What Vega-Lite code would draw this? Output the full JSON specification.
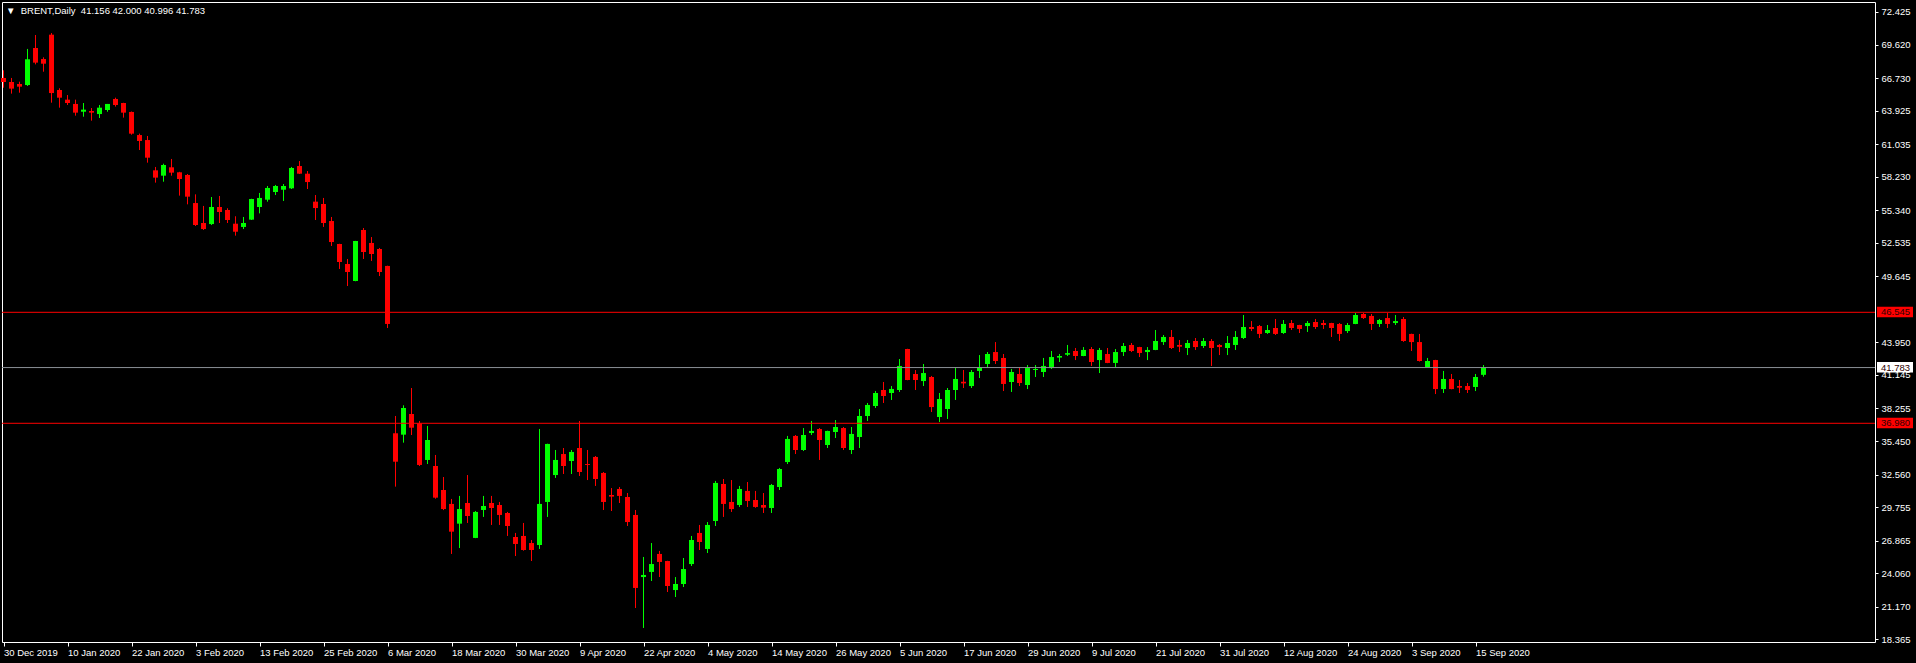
{
  "$schema": "https://vega.github.io/schema/vega-lite/v6.json",
  "autosize": {"type": "none"},
  "width": 1873,
  "height": 640,
  "padding": {"left": 2, "top": 2, "right": 41, "bottom": 21},
  "background": "#000000",
  "config": {
    "view": {"stroke": "#ffffff", "strokeWidth": 1},
    "axis": {"grid": false, "domain": false, "tickColor": "#ffffff", "labelColor": "#ffffff", "labelFont": "Liberation Sans", "labelFontSize": 9.5, "labelOverlap": false, "labelFlush": false, "labelBound": false}
  },
  "data": {"values": [
    {"d":"30 Dec 2019","o":66.74,"h":67.40,"l":65.90,"c":66.39},
    {"d":"31 Dec 2019","o":66.39,"h":66.74,"l":65.39,"c":65.82},
    {"d":"2 Jan 2020","o":66.22,"h":66.42,"l":65.47,"c":65.99},
    {"d":"3 Jan 2020","o":66.13,"h":69.24,"l":66.05,"c":68.35},
    {"d":"6 Jan 2020","o":69.32,"h":70.44,"l":67.91,"c":68.06},
    {"d":"7 Jan 2020","o":68.37,"h":68.52,"l":67.28,"c":67.97},
    {"d":"8 Jan 2020","o":70.47,"h":70.61,"l":64.61,"c":65.44},
    {"d":"9 Jan 2020","o":65.70,"h":65.85,"l":64.18,"c":65.04},
    {"d":"10 Jan 2020","o":64.87,"h":65.27,"l":64.41,"c":64.58},
    {"d":"13 Jan 2020","o":64.50,"h":64.87,"l":63.49,"c":63.75},
    {"d":"14 Jan 2020","o":63.83,"h":64.58,"l":63.40,"c":64.01},
    {"d":"15 Jan 2020","o":63.89,"h":64.15,"l":63.06,"c":63.75},
    {"d":"16 Jan 2020","o":63.63,"h":64.41,"l":63.29,"c":64.18},
    {"d":"17 Jan 2020","o":63.98,"h":64.50,"l":63.83,"c":64.50},
    {"d":"20 Jan 2020","o":64.93,"h":65.04,"l":64.27,"c":64.41},
    {"d":"21 Jan 2020","o":64.58,"h":64.60,"l":63.32,"c":63.75},
    {"d":"22 Jan 2020","o":63.81,"h":63.85,"l":61.85,"c":61.94},
    {"d":"23 Jan 2020","o":61.82,"h":61.94,"l":60.53,"c":61.31},
    {"d":"24 Jan 2020","o":61.39,"h":61.74,"l":59.44,"c":59.87},
    {"d":"27 Jan 2020","o":58.78,"h":59.07,"l":57.72,"c":58.15},
    {"d":"28 Jan 2020","o":58.32,"h":59.35,"l":57.80,"c":59.24},
    {"d":"29 Jan 2020","o":59.04,"h":59.76,"l":58.32,"c":58.58},
    {"d":"30 Jan 2020","o":58.61,"h":58.65,"l":56.60,"c":58.03},
    {"d":"31 Jan 2020","o":58.38,"h":58.46,"l":55.85,"c":56.51},
    {"d":"3 Feb 2020","o":55.96,"h":56.71,"l":53.98,"c":54.07},
    {"d":"4 Feb 2020","o":54.24,"h":55.71,"l":53.64,"c":53.72},
    {"d":"5 Feb 2020","o":54.15,"h":56.48,"l":54.07,"c":55.62},
    {"d":"6 Feb 2020","o":55.62,"h":56.57,"l":54.24,"c":55.19},
    {"d":"7 Feb 2020","o":55.36,"h":55.51,"l":54.24,"c":54.50},
    {"d":"10 Feb 2020","o":54.18,"h":54.82,"l":53.15,"c":53.49},
    {"d":"11 Feb 2020","o":53.90,"h":54.76,"l":53.72,"c":54.24},
    {"d":"12 Feb 2020","o":54.53,"h":56.33,"l":54.50,"c":56.31},
    {"d":"13 Feb 2020","o":55.62,"h":56.83,"l":55.07,"c":56.40},
    {"d":"14 Feb 2020","o":56.25,"h":57.43,"l":56.08,"c":57.26},
    {"d":"17 Feb 2020","o":56.91,"h":57.52,"l":56.65,"c":57.43},
    {"d":"18 Feb 2020","o":57.11,"h":57.60,"l":56.14,"c":57.43},
    {"d":"19 Feb 2020","o":57.23,"h":59.07,"l":57.17,"c":58.98},
    {"d":"20 Feb 2020","o":59.15,"h":59.58,"l":58.46,"c":58.49},
    {"d":"21 Feb 2020","o":58.49,"h":58.72,"l":57.17,"c":57.77},
    {"d":"24 Feb 2020","o":56.08,"h":56.65,"l":54.50,"c":55.53},
    {"d":"25 Feb 2020","o":55.88,"h":56.40,"l":53.90,"c":54.24},
    {"d":"26 Feb 2020","o":54.41,"h":54.76,"l":52.26,"c":52.60},
    {"d":"27 Feb 2020","o":52.43,"h":52.45,"l":50.28,"c":50.88},
    {"d":"28 Feb 2020","o":50.71,"h":51.14,"l":48.81,"c":50.02},
    {"d":"2 Mar 2020","o":49.24,"h":52.70,"l":49.22,"c":52.69},
    {"d":"3 Mar 2020","o":53.64,"h":53.81,"l":51.14,"c":51.74},
    {"d":"4 Mar 2020","o":52.52,"h":53.03,"l":50.97,"c":51.57},
    {"d":"5 Mar 2020","o":52.00,"h":52.09,"l":49.67,"c":50.02},
    {"d":"6 Mar 2020","o":50.54,"h":50.56,"l":45.19,"c":45.54},
    {"d":"9 Mar 2020","o":36.12,"h":37.61,"l":31.52,"c":33.67},
    {"d":"10 Mar 2020","o":36.00,"h":38.53,"l":35.31,"c":38.30},
    {"d":"11 Mar 2020","o":37.78,"h":40.02,"l":35.97,"c":36.60},
    {"d":"12 Mar 2020","o":36.98,"h":37.18,"l":33.30,"c":33.39},
    {"d":"13 Mar 2020","o":33.82,"h":36.75,"l":33.47,"c":35.54},
    {"d":"16 Mar 2020","o":33.30,"h":34.25,"l":30.48,"c":30.57},
    {"d":"17 Mar 2020","o":31.23,"h":32.35,"l":29.50,"c":29.59},
    {"d":"18 Mar 2020","o":30.03,"h":30.46,"l":25.72,"c":27.64},
    {"d":"19 Mar 2020","o":28.33,"h":30.72,"l":26.23,"c":29.59},
    {"d":"20 Mar 2020","o":30.11,"h":32.52,"l":28.39,"c":28.99},
    {"d":"23 Mar 2020","o":27.10,"h":29.42,"l":27.08,"c":29.34},
    {"d":"24 Mar 2020","o":29.51,"h":30.72,"l":28.91,"c":29.85},
    {"d":"25 Mar 2020","o":30.11,"h":30.72,"l":28.22,"c":29.68},
    {"d":"26 Mar 2020","o":29.94,"h":30.20,"l":28.22,"c":29.08},
    {"d":"27 Mar 2020","o":29.25,"h":29.34,"l":27.27,"c":28.13},
    {"d":"30 Mar 2020","o":27.18,"h":27.53,"l":25.54,"c":26.58},
    {"d":"31 Mar 2020","o":27.27,"h":28.39,"l":26.00,"c":26.06},
    {"d":"1 Apr 2020","o":26.66,"h":26.92,"l":25.11,"c":26.06},
    {"d":"2 Apr 2020","o":26.49,"h":36.49,"l":26.15,"c":30.03},
    {"d":"3 Apr 2020","o":30.20,"h":35.22,"l":28.91,"c":35.20},
    {"d":"6 Apr 2020","o":32.52,"h":34.68,"l":32.27,"c":33.82},
    {"d":"7 Apr 2020","o":34.33,"h":34.85,"l":32.61,"c":33.30},
    {"d":"8 Apr 2020","o":33.73,"h":34.68,"l":32.61,"c":34.51},
    {"d":"9 Apr 2020","o":34.85,"h":37.18,"l":32.44,"c":32.78},
    {"d":"13 Apr 2020","o":33.47,"h":34.68,"l":32.09,"c":33.39},
    {"d":"14 Apr 2020","o":34.08,"h":34.16,"l":31.58,"c":32.18},
    {"d":"15 Apr 2020","o":32.70,"h":32.78,"l":29.51,"c":30.20},
    {"d":"16 Apr 2020","o":30.80,"h":31.40,"l":29.42,"c":30.66},
    {"d":"17 Apr 2020","o":31.32,"h":31.49,"l":30.11,"c":30.72},
    {"d":"20 Apr 2020","o":30.63,"h":30.97,"l":28.13,"c":28.47},
    {"d":"21 Apr 2020","o":29.08,"h":29.51,"l":21.06,"c":22.79},
    {"d":"22 Apr 2020","o":23.73,"h":25.46,"l":19.34,"c":23.91},
    {"d":"23 Apr 2020","o":24.17,"h":26.66,"l":23.39,"c":24.85},
    {"d":"24 Apr 2020","o":25.72,"h":25.98,"l":23.73,"c":25.03},
    {"d":"27 Apr 2020","o":25.11,"h":25.13,"l":22.44,"c":22.96},
    {"d":"28 Apr 2020","o":22.61,"h":23.73,"l":22.01,"c":23.13},
    {"d":"29 Apr 2020","o":23.13,"h":25.37,"l":22.87,"c":24.42},
    {"d":"30 Apr 2020","o":24.85,"h":27.27,"l":24.68,"c":26.92},
    {"d":"1 May 2020","o":27.53,"h":28.22,"l":26.06,"c":26.75},
    {"d":"4 May 2020","o":26.15,"h":28.47,"l":25.80,"c":28.22},
    {"d":"5 May 2020","o":28.56,"h":32.01,"l":28.13,"c":31.84},
    {"d":"6 May 2020","o":31.75,"h":32.18,"l":28.91,"c":30.03},
    {"d":"7 May 2020","o":30.20,"h":32.09,"l":29.34,"c":29.59},
    {"d":"8 May 2020","o":29.94,"h":31.58,"l":29.77,"c":31.32},
    {"d":"11 May 2020","o":31.15,"h":31.92,"l":29.77,"c":30.28},
    {"d":"12 May 2020","o":30.37,"h":31.15,"l":29.70,"c":29.77},
    {"d":"13 May 2020","o":29.94,"h":30.97,"l":29.25,"c":29.71},
    {"d":"14 May 2020","o":29.68,"h":31.75,"l":29.25,"c":31.66},
    {"d":"15 May 2020","o":31.49,"h":33.13,"l":31.23,"c":33.04},
    {"d":"18 May 2020","o":33.64,"h":35.89,"l":33.47,"c":35.63},
    {"d":"19 May 2020","o":35.89,"h":35.97,"l":34.33,"c":34.68},
    {"d":"20 May 2020","o":34.68,"h":36.57,"l":34.59,"c":35.97},
    {"d":"21 May 2020","o":36.14,"h":37.18,"l":35.97,"c":36.32},
    {"d":"22 May 2020","o":36.49,"h":36.57,"l":33.82,"c":35.54},
    {"d":"25 May 2020","o":35.11,"h":36.34,"l":34.85,"c":36.32},
    {"d":"26 May 2020","o":36.23,"h":37.26,"l":35.71,"c":36.66},
    {"d":"27 May 2020","o":36.57,"h":36.66,"l":34.68,"c":34.85},
    {"d":"28 May 2020","o":34.68,"h":36.66,"l":34.33,"c":36.06},
    {"d":"29 May 2020","o":35.80,"h":38.21,"l":34.85,"c":37.61},
    {"d":"1 Jun 2020","o":37.61,"h":38.73,"l":37.18,"c":38.56},
    {"d":"2 Jun 2020","o":38.47,"h":39.76,"l":38.30,"c":39.59},
    {"d":"3 Jun 2020","o":39.85,"h":40.54,"l":38.73,"c":39.33},
    {"d":"4 Jun 2020","o":39.59,"h":40.19,"l":38.99,"c":39.94},
    {"d":"5 Jun 2020","o":39.85,"h":42.52,"l":39.68,"c":41.92},
    {"d":"8 Jun 2020","o":43.38,"h":43.40,"l":40.69,"c":40.71},
    {"d":"9 Jun 2020","o":41.23,"h":41.57,"l":39.85,"c":40.71},
    {"d":"10 Jun 2020","o":40.62,"h":42.09,"l":40.19,"c":41.31},
    {"d":"11 Jun 2020","o":40.97,"h":41.06,"l":37.95,"c":38.38},
    {"d":"12 Jun 2020","o":37.52,"h":39.59,"l":37.09,"c":39.07},
    {"d":"15 Jun 2020","o":38.21,"h":40.02,"l":37.35,"c":39.85},
    {"d":"16 Jun 2020","o":39.85,"h":41.74,"l":38.99,"c":40.80},
    {"d":"17 Jun 2020","o":40.56,"h":41.57,"l":40.02,"c":40.42},
    {"d":"18 Jun 2020","o":40.19,"h":41.57,"l":40.02,"c":41.40},
    {"d":"19 Jun 2020","o":41.49,"h":42.86,"l":40.88,"c":41.83},
    {"d":"22 Jun 2020","o":42.09,"h":43.12,"l":41.83,"c":42.95},
    {"d":"23 Jun 2020","o":43.12,"h":43.98,"l":42.09,"c":42.35},
    {"d":"24 Jun 2020","o":42.61,"h":42.95,"l":39.76,"c":40.37},
    {"d":"25 Jun 2020","o":40.54,"h":41.66,"l":39.68,"c":41.40},
    {"d":"26 Jun 2020","o":41.23,"h":41.83,"l":40.19,"c":40.45},
    {"d":"29 Jun 2020","o":40.28,"h":42.00,"l":39.93,"c":41.74},
    {"d":"30 Jun 2020","o":41.57,"h":42.00,"l":40.97,"c":41.66},
    {"d":"1 Jul 2020","o":41.40,"h":42.61,"l":40.97,"c":41.92},
    {"d":"2 Jul 2020","o":41.74,"h":43.21,"l":41.66,"c":42.69},
    {"d":"3 Jul 2020","o":42.64,"h":42.95,"l":42.26,"c":42.78},
    {"d":"6 Jul 2020","o":42.89,"h":43.73,"l":42.78,"c":43.03},
    {"d":"7 Jul 2020","o":43.21,"h":43.47,"l":42.43,"c":42.78},
    {"d":"8 Jul 2020","o":42.78,"h":43.55,"l":42.76,"c":43.30},
    {"d":"9 Jul 2020","o":43.38,"h":43.55,"l":41.92,"c":42.26},
    {"d":"10 Jul 2020","o":42.43,"h":43.47,"l":41.31,"c":43.30},
    {"d":"13 Jul 2020","o":42.95,"h":43.47,"l":42.16,"c":42.18},
    {"d":"14 Jul 2020","o":42.18,"h":43.38,"l":41.83,"c":43.12},
    {"d":"15 Jul 2020","o":43.12,"h":43.90,"l":42.78,"c":43.64},
    {"d":"16 Jul 2020","o":43.73,"h":43.90,"l":43.12,"c":43.21},
    {"d":"17 Jul 2020","o":43.55,"h":43.57,"l":42.69,"c":43.04},
    {"d":"20 Jul 2020","o":43.12,"h":43.55,"l":42.43,"c":43.30},
    {"d":"21 Jul 2020","o":43.30,"h":45.02,"l":43.28,"c":44.07},
    {"d":"22 Jul 2020","o":43.98,"h":44.59,"l":43.73,"c":44.42},
    {"d":"23 Jul 2020","o":44.42,"h":45.02,"l":43.38,"c":43.47},
    {"d":"24 Jul 2020","o":43.73,"h":44.16,"l":43.12,"c":43.58},
    {"d":"27 Jul 2020","o":43.47,"h":44.16,"l":42.86,"c":43.90},
    {"d":"28 Jul 2020","o":44.07,"h":44.33,"l":43.30,"c":43.55},
    {"d":"29 Jul 2020","o":43.64,"h":44.33,"l":43.47,"c":44.07},
    {"d":"30 Jul 2020","o":44.07,"h":44.24,"l":41.92,"c":43.47},
    {"d":"31 Jul 2020","o":43.73,"h":43.81,"l":42.86,"c":43.55},
    {"d":"3 Aug 2020","o":43.47,"h":44.50,"l":42.86,"c":43.90},
    {"d":"4 Aug 2020","o":43.73,"h":44.93,"l":43.30,"c":44.42},
    {"d":"5 Aug 2020","o":44.33,"h":46.31,"l":44.24,"c":45.28},
    {"d":"6 Aug 2020","o":45.28,"h":45.79,"l":44.93,"c":45.11},
    {"d":"7 Aug 2020","o":45.36,"h":45.45,"l":44.33,"c":44.68},
    {"d":"10 Aug 2020","o":44.76,"h":45.45,"l":44.68,"c":45.02},
    {"d":"11 Aug 2020","o":45.19,"h":45.97,"l":44.59,"c":44.68},
    {"d":"12 Aug 2020","o":44.76,"h":45.88,"l":44.68,"c":45.54},
    {"d":"13 Aug 2020","o":45.62,"h":45.88,"l":45.02,"c":45.19},
    {"d":"14 Aug 2020","o":45.45,"h":45.47,"l":44.76,"c":45.11},
    {"d":"17 Aug 2020","o":45.36,"h":45.79,"l":44.85,"c":45.62},
    {"d":"18 Aug 2020","o":45.71,"h":45.97,"l":45.11,"c":45.28},
    {"d":"19 Aug 2020","o":45.62,"h":45.88,"l":45.11,"c":45.45},
    {"d":"20 Aug 2020","o":45.62,"h":45.64,"l":44.42,"c":45.19},
    {"d":"21 Aug 2020","o":45.54,"h":45.62,"l":44.07,"c":44.68},
    {"d":"24 Aug 2020","o":44.93,"h":45.62,"l":44.76,"c":45.45},
    {"d":"25 Aug 2020","o":45.54,"h":46.48,"l":45.52,"c":46.31},
    {"d":"26 Aug 2020","o":46.40,"h":46.48,"l":45.97,"c":46.05},
    {"d":"27 Aug 2020","o":46.23,"h":46.40,"l":45.02,"c":45.54},
    {"d":"28 Aug 2020","o":45.54,"h":45.97,"l":45.28,"c":45.88},
    {"d":"31 Aug 2020","o":46.05,"h":46.48,"l":45.19,"c":45.54},
    {"d":"1 Sep 2020","o":45.62,"h":46.31,"l":45.45,"c":45.79},
    {"d":"2 Sep 2020","o":45.97,"h":46.14,"l":44.00,"c":44.07},
    {"d":"3 Sep 2020","o":44.68,"h":44.70,"l":43.21,"c":43.98},
    {"d":"4 Sep 2020","o":43.98,"h":44.68,"l":42.30,"c":42.35},
    {"d":"7 Sep 2020","o":41.83,"h":42.61,"l":41.81,"c":42.35},
    {"d":"8 Sep 2020","o":42.43,"h":42.45,"l":39.50,"c":39.93},
    {"d":"9 Sep 2020","o":39.93,"h":41.49,"l":39.59,"c":40.80},
    {"d":"10 Sep 2020","o":40.80,"h":41.23,"l":39.91,"c":39.93},
    {"d":"11 Sep 2020","o":40.19,"h":40.71,"l":39.59,"c":40.05},
    {"d":"14 Sep 2020","o":40.19,"h":40.45,"l":39.59,"c":39.85},
    {"d":"15 Sep 2020","o":40.11,"h":41.23,"l":39.76,"c":40.97},
    {"d":"16 Sep 2020","o":41.156,"h":42.000,"l":40.996,"c":41.783}
  ]},
  "layer": [
    {
      "mark": {"type": "rule", "strokeWidth": 1},
      "encoding": {
        "x": {"field": "d", "type": "ordinal", "sort": null, "title": null,
          "scale": {"type": "point", "padding": 0, "range": [1.5, 1481.5]},
          "axis": {"values": ["30 Dec 2019","10 Jan 2020","22 Jan 2020","3 Feb 2020","13 Feb 2020","25 Feb 2020","6 Mar 2020","18 Mar 2020","30 Mar 2020","9 Apr 2020","22 Apr 2020","4 May 2020","14 May 2020","26 May 2020","5 Jun 2020","17 Jun 2020","29 Jun 2020","9 Jul 2020","21 Jul 2020","31 Jul 2020","12 Aug 2020","24 Aug 2020","3 Sep 2020","15 Sep 2020"],
            "labelAngle": 0, "labelAlign": "left", "labelBaseline": "top", "tickSize": 4, "labelPadding": 1, "labelOverlap": false, "labelFlush": false, "labelBound": false}},
        "y": {"field": "l", "type": "quantitative", "title": null,
          "scale": {"domain": [18.132, 73.286], "nice": false, "zero": false},
          "axis": {"orient": "right", "tickCount": 60, "values": [72.425, 69.62, 66.73, 63.925, 61.035, 58.23, 55.34, 52.535, 49.645, 43.95, 41.145, 38.255, 35.45, 32.56, 29.755, 26.865, 24.06, 21.17, 18.365],
            "format": ".3f", "tickSize": 3, "labelPadding": 3, "labelOverlap": false, "labelFlush": false, "labelBound": false}},
        "y2": {"field": "h"},
        "color": {"condition": {"test": "datum.c >= datum.o", "value": "#00ff00"}, "value": "#ff0000"}
      }
    },
    {
      "mark": {"type": "rule", "strokeWidth": 5},
      "encoding": {
        "x": {"field": "d", "type": "ordinal", "sort": null, "title": null},
        "y": {"field": "o", "type": "quantitative", "title": null},
        "y2": {"field": "c"},
        "color": {"condition": {"test": "datum.c >= datum.o", "value": "#00ff00"}, "value": "#ff0000"}
      }
    },
    {
      "data": {"values": [{"p": 46.545, "k": "r"}, {"p": 36.98, "k": "r"}, {"p": 41.783, "k": "b"}]},
      "layer": [
        {
          "mark": {"type": "rule", "strokeWidth": 1},
          "encoding": {
            "y": {"field": "p", "type": "quantitative", "title": null},
            "color": {"condition": {"test": "datum.k == 'b'", "value": "#8a8f96"}, "value": "#ff0000"}
          }
        },
        {
          "mark": {"type": "rect", "xOffset": 2, "x2Offset": 38, "yOffset": -5.5, "y2Offset": 5},
          "encoding": {
            "x": {"value": "width"},
            "x2": {"value": "width"},
            "y": {"field": "p", "type": "quantitative", "title": null},
            "y2": {"field": "p"},
            "color": {"condition": {"test": "datum.k == 'b'", "value": "#ffffff"}, "value": "#ff0000"}
          }
        },
        {
          "mark": {"type": "text", "align": "left", "baseline": "middle", "dx": 6, "font": "Liberation Sans", "fontSize": 9.5, "color": "#300000"},
          "encoding": {
            "x": {"value": "width"},
            "y": {"field": "p", "type": "quantitative", "title": null},
            "text": {"field": "p", "type": "quantitative", "format": ".3f"}
          }
        }
      ]
    },
    {
      "data": {"values": [{"sym": "BRENT,Daily", "o": 41.156, "h": 42.0, "l": 40.996, "c": 41.783, "d": "30 Dec 2019", "top": 72.25}]},
      "mark": {"type": "text", "align": "left", "baseline": "alphabetic", "dx": 2.5, "font": "Liberation Sans", "fontSize": 9.5, "color": "#ffffff"},
      "encoding": {
        "x": {"field": "d", "type": "ordinal", "sort": null, "title": null},
        "y": {"field": "top", "type": "quantitative", "title": null},
        "text": {"value": "▼\u00a0\u00a0BRENT,Daily\u00a0\u00a041.156 42.000 40.996 41.783"}
      }
    }
  ]
}
